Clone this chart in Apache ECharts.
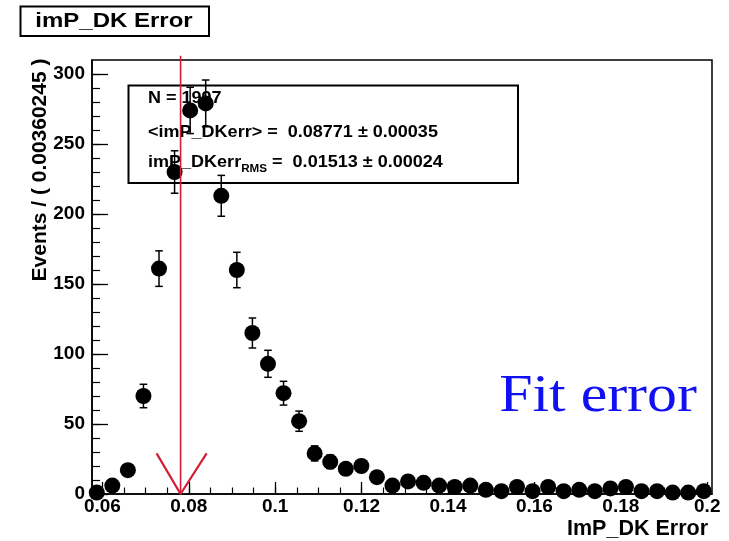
<!DOCTYPE html>
<html><head><meta charset="utf-8">
<script src="https://cdn.jsdelivr.net/npm/echarts@6/dist/echarts.min.js"></script>
<style>html,body{margin:0;padding:0;background:#fff}#c{width:729px;height:541px}</style>
</head><body><div id="c"></div>
<script>
// ---- data ----
const axisXMin = 0.0576, axisXMax = 0.2011;
const axisYMin = 0, axisYMax = 310;
const firstBinLow = 0.0569, binWidth = 0.00360245;
const counts = [1, 6, 17, 70, 161, 230, 274, 279, 213, 160, 115, 93, 72, 52,
                29, 23, 18, 20, 12, 6, 9, 8, 6, 5, 6, 3, 2, 5, 2, 5,
                2, 3, 2, 4, 5, 2, 2, 1, 1, 2];
const xTickLabels = [0.06, 0.08, 0.1, 0.12, 0.14, 0.16, 0.18, 0.2];
const xMinorTicks = [0.06, 0.065, 0.07, 0.075, 0.08, 0.085, 0.09, 0.095, 0.1, 0.105, 0.11, 0.115,
                     0.12, 0.125, 0.13, 0.135, 0.14, 0.145, 0.15, 0.155, 0.16, 0.165, 0.17, 0.175,
                     0.18, 0.185, 0.19, 0.195, 0.2];
const yTickLabels = [0, 50, 100, 150, 200, 250, 300];
const yMinorTicks = [0, 10, 20, 30, 40, 50, 60, 70, 80, 90, 100, 110, 120, 130, 140, 150, 160, 170,
                     180, 190, 200, 210, 220, 230, 240, 250, 260, 270, 280, 290, 300];
const fitLineX = 0.0781;
const fitLine = [[fitLineX, 0], [fitLineX, 313]];
const fitArrow = [[0.07255, 29], [fitLineX, 0], [0.08413, 29]];
const titleText = 'imP_DK Error';
const xTitle = 'ImP_DK Error';
const yTitle = 'Events / ( 0.00360245 )';
const statsN = 'N = 1997';
const statsMean = '<imP_DKerr> =  0.08771 ± 0.00035';
const statsRmsName = 'imP_DKerr', statsRmsSub = 'RMS', statsRmsVal = ' =  0.01513 ± 0.00024';
const noteText = 'Fit error';

// ---- build ----
const binCenters = counts.map((c, i) => firstBinLow + (i + 0.5) * binWidth);
const points = counts.map((c, i) => [binCenters[i], c]);

const FONT = '"Liberation Sans", Arial, sans-serif';
const labelStyle = {color: '#000', fontSize: 19, fontWeight: 'bold', fontFamily: FONT};
const red = '#d41c38';

const chart = echarts.init(document.getElementById('c'), null, {renderer: 'canvas'});
chart.setOption({
  animation: false,
  backgroundColor: '#fff',
  grid: {left: 92, right: 17, top: 60, bottom: 47, show: true, borderColor: '#000', borderWidth: 1.5, backgroundColor: 'transparent'},
  xAxis: [
    {type: 'value', min: axisXMin, max: axisXMax,
     axisLine: {show: true, onZero: false, lineStyle: {color: '#000', width: 1.5}},
     axisTick: {show: true, inside: true, length: 12, customValues: xTickLabels, lineStyle: {color: '#000', width: 1.3}},
     axisLabel: Object.assign({show: true, margin: 3, customValues: xTickLabels}, labelStyle),
     splitLine: {show: false}},
    {type: 'value', min: axisXMin, max: axisXMax, position: 'bottom', offset: 0,
     axisLine: {show: false, onZero: false},
     axisTick: {show: true, inside: true, length: 6.5, customValues: xMinorTicks, lineStyle: {color: '#000', width: 1.2}},
     axisLabel: {show: false}, splitLine: {show: false}}
  ],
  yAxis: [
    {type: 'value', min: axisYMin, max: axisYMax,
     axisLine: {show: true, onZero: false, lineStyle: {color: '#000', width: 1.5}},
     axisTick: {show: true, inside: true, length: 16, customValues: yTickLabels, lineStyle: {color: '#000', width: 1.3}},
     axisLabel: Object.assign({show: true, margin: 7, customValues: yTickLabels}, labelStyle),
     splitLine: {show: false}},
    {type: 'value', min: axisYMin, max: axisYMax, position: 'left', offset: 0,
     axisLine: {show: false, onZero: false},
     axisTick: {show: true, inside: true, length: 8, customValues: yMinorTicks, lineStyle: {color: '#000', width: 1.2}},
     axisLabel: {show: false}, splitLine: {show: false}}
  ],
  series: [
    {type: 'custom', name: 'errors', xAxisIndex: 0, yAxisIndex: 0, z: 3, clip: false,
     data: points,
     renderItem: function (params, api) {
       const x = api.value(0), y = api.value(1), e = Math.sqrt(y);
       const t = api.coord([x, y + e]), b = api.coord([x, Math.max(y - e, 0)]);
       const cap = 3.8, st = {stroke: '#000', lineWidth: 1.5};
       return {type: 'group', children: [
         {type: 'line', shape: {x1: t[0], y1: t[1], x2: b[0], y2: b[1]}, style: st},
         {type: 'line', shape: {x1: t[0] - cap, y1: t[1], x2: t[0] + cap, y2: t[1]}, style: st},
         {type: 'line', shape: {x1: b[0] - cap, y1: b[1], x2: b[0] + cap, y2: b[1]}, style: st}
       ]};
     }},
    {type: 'scatter', name: 'data', xAxisIndex: 0, yAxisIndex: 0, z: 4, data: points,
     symbol: 'circle', symbolSize: 16, itemStyle: {color: '#000', opacity: 1}, clip: false},
    {type: 'line', name: 'fit line', data: fitLine, z: 5, symbol: 'none', clip: false,
     lineStyle: {color: red, width: 1.6}},
    {type: 'line', name: 'fit arrow', data: fitArrow, z: 5, symbol: 'none', clip: false,
     lineStyle: {color: red, width: 2.2}}
  ],
  graphic: [
    {type: 'rect', z: 1, shape: {x: 20.5, y: 6.5, width: 188.5, height: 29.5},
     style: {fill: '#fff', stroke: '#000', lineWidth: 2}},
    {type: 'text', z: 2, x: 114, y: 21.5, scaleX: 1.2,
     style: {text: titleText, font: 'bold 20px ' + FONT, fill: '#000', textAlign: 'center', textVerticalAlign: 'middle'}},
    {type: 'rect', z: 1, shape: {x: 128.5, y: 85.5, width: 389.5, height: 97.5},
     style: {fill: 'rgba(255,255,255,0)', stroke: '#000', lineWidth: 2}},
    {type: 'text', z: 1, x: 148, y: 98, scaleX: 1.06,
     style: {text: statsN, font: 'bold 17px ' + FONT, fill: '#000', textAlign: 'left', textVerticalAlign: 'middle'}},
    {type: 'text', z: 1, x: 148, y: 132, scaleX: 1.06,
     style: {text: statsMean, font: 'bold 17px ' + FONT, fill: '#000', textAlign: 'left', textVerticalAlign: 'middle'}},
    {type: 'text', z: 1, x: 148, y: 162, scaleX: 1.06,
     style: {text: '{n|' + statsRmsName + '}{s|' + statsRmsSub + '}{n|' + statsRmsVal + '}',
       textAlign: 'left', textVerticalAlign: 'middle',
       rich: {n: {font: 'bold 17px ' + FONT, fill: '#000', lineHeight: 24, verticalAlign: 'middle'},
              s: {font: 'bold 11px ' + FONT, fill: '#000', lineHeight: 24, verticalAlign: 'bottom'}}}},
    {type: 'text', z: 1, x: 40, y: 170, rotation: Math.PI / 2,
     style: {text: yTitle, font: 'bold 21px ' + FONT, fill: '#000', textAlign: 'center', textVerticalAlign: 'middle'}},
    {type: 'text', z: 1, x: 708, y: 529,
     style: {text: xTitle, font: 'bold 21.5px ' + FONT, fill: '#000', textAlign: 'right', textVerticalAlign: 'middle'}},
    {type: 'text', z: 6, x: 598, y: 397, scaleX: 1.15,
     style: {text: noteText, font: '52px "Liberation Serif", "Times New Roman", serif', fill: '#1010f0', textAlign: 'center', textVerticalAlign: 'middle'}}
  ]
});
</script>
</body></html>
